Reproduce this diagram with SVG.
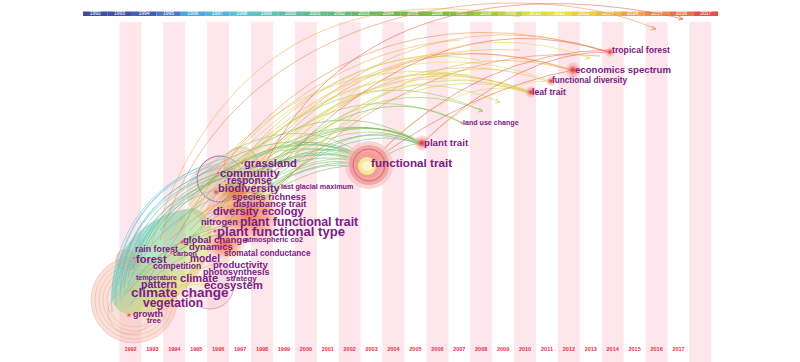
<svg xmlns="http://www.w3.org/2000/svg" width="800" height="362" viewBox="0 0 800 362">
<style>
.stripe{fill:#fde6ec}
.bar text{font-family:"Liberation Sans",Arial,sans-serif;font-size:5px;fill:#ffffff;text-anchor:middle}
.yr{font-family:"Liberation Sans",Arial,sans-serif;font-size:5.5px;font-weight:bold;fill:#e8304a;text-anchor:middle}
.lbl{font-family:"Liberation Sans",Arial,sans-serif;font-weight:bold;fill:#7b2084}
#links path{fill:none;stroke-width:0.8;stroke-opacity:0.7}
.t1{stroke:#5cc4dc}.t2{stroke:#5ec2b4}.g3{stroke:#5cba8a}.g1{stroke:#6cbd4e}.g2{stroke:#92c95a}
.y1{stroke:#c8d850}.y2{stroke:#e8d850}.o1{stroke:#eeb04e}.o2{stroke:#eb8a50}.r1{stroke:#e8604e}
.ring{fill:none;stroke:#eba090;stroke-opacity:0.6;stroke-width:0.7}
</style>
<defs>
<radialGradient id="halo">
<stop offset="0" stop-color="#e02626" stop-opacity="1"/>
<stop offset="0.3" stop-color="#ea5252" stop-opacity="0.75"/>
<stop offset="0.6" stop-color="#f08c8c" stop-opacity="0.5"/>
<stop offset="1" stop-color="#f6baba" stop-opacity="0.25"/>
</radialGradient>
<radialGradient id="hot">
<stop offset="0" stop-color="#f04a28" stop-opacity="0.8"/>
<stop offset="0.6" stop-color="#f48a60" stop-opacity="0.5"/>
<stop offset="1" stop-color="#f8b090" stop-opacity="0"/>
</radialGradient>
<linearGradient id="rainbow" x1="0" y1="0" x2="1" y2="1">
<stop offset="0" stop-color="#50c0e0"/>
<stop offset="0.4" stop-color="#70c890"/>
<stop offset="0.7" stop-color="#d8dc50"/>
<stop offset="1" stop-color="#f09050"/>
</linearGradient>
</defs>
<rect width="800" height="362" fill="#ffffff"/>
<g id="stripes">
<rect class="stripe" x="119.5" y="22" width="21.9" height="340"/>
<rect class="stripe" x="163.3" y="22" width="21.9" height="340"/>
<rect class="stripe" x="207.2" y="22" width="21.9" height="340"/>
<rect class="stripe" x="251.0" y="22" width="21.9" height="340"/>
<rect class="stripe" x="294.9" y="22" width="21.9" height="340"/>
<rect class="stripe" x="338.7" y="22" width="21.9" height="340"/>
<rect class="stripe" x="382.5" y="22" width="21.9" height="340"/>
<rect class="stripe" x="426.4" y="22" width="21.9" height="340"/>
<rect class="stripe" x="470.2" y="22" width="21.9" height="340"/>
<rect class="stripe" x="514.1" y="22" width="21.9" height="340"/>
<rect class="stripe" x="557.9" y="22" width="21.9" height="340"/>
<rect class="stripe" x="601.7" y="22" width="21.9" height="340"/>
<rect class="stripe" x="645.6" y="22" width="21.9" height="340"/>
<rect class="stripe" x="689.4" y="22" width="21.9" height="340"/>
</g>
<g id="timebar" class="bar">
<rect x="83.0" y="11.5" width="24.5" height="4.5" fill="#3d4ea3"/><text x="95.2" y="15.4">1992</text>
<rect x="107.4" y="11.5" width="24.5" height="4.5" fill="#3f52a8"/><text x="119.6" y="15.4">1993</text>
<rect x="131.8" y="11.5" width="24.5" height="4.5" fill="#4360b2"/><text x="144.1" y="15.4">1994</text>
<rect x="156.3" y="11.5" width="24.5" height="4.5" fill="#4c7cc6"/><text x="168.5" y="15.4">1995</text>
<rect x="180.7" y="11.5" width="24.5" height="4.5" fill="#4fa6de"/><text x="192.9" y="15.4">1996</text>
<rect x="205.1" y="11.5" width="24.5" height="4.5" fill="#54b6e0"/><text x="217.3" y="15.4">1997</text>
<rect x="229.5" y="11.5" width="24.5" height="4.5" fill="#5cc2d2"/><text x="241.8" y="15.4">1998</text>
<rect x="254.0" y="11.5" width="24.5" height="4.5" fill="#62c2bc"/><text x="266.2" y="15.4">1999</text>
<rect x="278.4" y="11.5" width="24.5" height="4.5" fill="#64bea6"/><text x="290.6" y="15.4">2000</text>
<rect x="302.8" y="11.5" width="24.5" height="4.5" fill="#66bc90"/><text x="315.0" y="15.4">2001</text>
<rect x="327.2" y="11.5" width="24.5" height="4.5" fill="#66ba7c"/><text x="339.5" y="15.4">2002</text>
<rect x="351.7" y="11.5" width="24.5" height="4.5" fill="#68b866"/><text x="363.9" y="15.4">2003</text>
<rect x="376.1" y="11.5" width="24.5" height="4.5" fill="#6cb854"/><text x="388.3" y="15.4">2004</text>
<rect x="400.5" y="11.5" width="24.5" height="4.5" fill="#74bb4a"/><text x="412.7" y="15.4">2005</text>
<rect x="424.9" y="11.5" width="24.5" height="4.5" fill="#7cbe44"/><text x="437.2" y="15.4">2006</text>
<rect x="449.4" y="11.5" width="24.5" height="4.5" fill="#8ac242"/><text x="461.6" y="15.4">2007</text>
<rect x="473.8" y="11.5" width="24.5" height="4.5" fill="#a0ca42"/><text x="486.0" y="15.4">2008</text>
<rect x="498.2" y="11.5" width="24.5" height="4.5" fill="#bcd444"/><text x="510.4" y="15.4">2009</text>
<rect x="522.6" y="11.5" width="24.5" height="4.5" fill="#dadf44"/><text x="534.9" y="15.4">2010</text>
<rect x="547.1" y="11.5" width="24.5" height="4.5" fill="#e8df44"/><text x="559.3" y="15.4">2011</text>
<rect x="571.5" y="11.5" width="24.5" height="4.5" fill="#ecce46"/><text x="583.7" y="15.4">2012</text>
<rect x="595.9" y="11.5" width="24.5" height="4.5" fill="#ecbc46"/><text x="608.1" y="15.4">2013</text>
<rect x="620.3" y="11.5" width="24.5" height="4.5" fill="#eaa648"/><text x="632.6" y="15.4">2014</text>
<rect x="644.8" y="11.5" width="24.5" height="4.5" fill="#e88e4a"/><text x="657.0" y="15.4">2015</text>
<rect x="669.2" y="11.5" width="24.5" height="4.5" fill="#e6724c"/><text x="681.4" y="15.4">2016</text>
<rect x="693.6" y="11.5" width="24.5" height="4.5" fill="#e2524a"/><text x="705.8" y="15.4">2017</text>
</g>
<g id="years">
<text class="yr" x="130.5" y="351">1992</text>
<text class="yr" x="152.4" y="351">1993</text>
<text class="yr" x="174.3" y="351">1994</text>
<text class="yr" x="196.3" y="351">1995</text>
<text class="yr" x="218.2" y="351">1996</text>
<text class="yr" x="240.1" y="351">1997</text>
<text class="yr" x="262.0" y="351">1998</text>
<text class="yr" x="283.9" y="351">1999</text>
<text class="yr" x="305.9" y="351">2000</text>
<text class="yr" x="327.8" y="351">2001</text>
<text class="yr" x="349.7" y="351">2002</text>
<text class="yr" x="371.6" y="351">2003</text>
<text class="yr" x="393.5" y="351">2004</text>
<text class="yr" x="415.4" y="351">2005</text>
<text class="yr" x="437.4" y="351">2006</text>
<text class="yr" x="459.3" y="351">2007</text>
<text class="yr" x="481.2" y="351">2008</text>
<text class="yr" x="503.1" y="351">2009</text>
<text class="yr" x="525.0" y="351">2010</text>
<text class="yr" x="547.0" y="351">2011</text>
<text class="yr" x="568.9" y="351">2012</text>
<text class="yr" x="590.8" y="351">2013</text>
<text class="yr" x="612.7" y="351">2014</text>
<text class="yr" x="634.6" y="351">2015</text>
<text class="yr" x="656.6" y="351">2016</text>
<text class="yr" x="678.5" y="351">2017</text>
</g>
<g id="halos">
<circle cx="134" cy="300" r="43" fill="#f4c4b4" fill-opacity="0.5"/>
<circle class="ring" cx="134" cy="300" r="43"/>
<circle class="ring" cx="134" cy="300" r="39"/>
<circle class="ring" cx="134" cy="300" r="35"/>
<circle class="ring" cx="134" cy="300" r="31"/>
<circle class="ring" cx="134" cy="300" r="27"/>
<circle class="ring" cx="130" cy="312" r="22"/>
<circle cx="210" cy="285" r="24" fill="#f4c8d4" fill-opacity="0.4" stroke="#c06cb4" stroke-opacity="0.6" stroke-width="0.9"/>
<circle cx="216" cy="193" r="30" fill="#f2b4aa" fill-opacity="0.4"/>
<circle cx="220" cy="179" r="23" fill="#f2c4cc" fill-opacity="0.35" stroke="#b060c0" stroke-width="1"/>
<circle cx="241" cy="164" r="17" fill="#f4c2b8" fill-opacity="0.5" stroke="#e8a0a0" stroke-opacity="0.6"/>
<circle cx="126" cy="260" r="11" fill="#f4b0a0" fill-opacity="0.55"/>
<path d="M112 300 C 108 258 140 214 192 208 C 224 214 214 262 184 290 C 162 314 120 326 112 300 Z" fill="url(#rainbow)" fill-opacity="0.5"/>
<ellipse cx="248" cy="215" rx="36" ry="32" fill="url(#hot)"/>
<ellipse cx="225" cy="245" rx="22" ry="16" fill="url(#hot)"/>
<ellipse cx="235" cy="192" rx="18" ry="14" fill="url(#hot)"/>
</g>
<g id="links">
<path class="t1" d="M116 305 C 114 245 145 185 212 166"/>
<path class="t1" d="M120 296 C 122 240 152 188 220 168"/>
<path class="t2" d="M124 288 C 130 235 160 190 228 170"/>
<path class="t2" d="M128 278 C 136 230 166 195 234 174"/>
<path class="t1" d="M112 312 C 108 255 135 195 198 168"/>
<path class="t2" d="M134 268 C 146 222 174 200 244 180"/>
<path class="t1" d="M118 285 C 126 225 170 178 240 160"/>
<path class="t1" d="M114 298 C 116 238 150 178 226 158"/>
<path class="t2" d="M122 275 C 130 225 165 185 236 168"/>
<path class="g3" d="M140 258 C 160 200 200 180 260 170"/>
<path class="g3" d="M132 270 C 150 205 200 170 270 165"/>
<path class="g3" d="M145 250 C 170 195 230 165 300 160"/>
<path class="t1" d="M120 300 Q 150 250 200 235"/>
<path class="t2" d="M130 305 Q 160 260 215 245"/>
<path class="g1" d="M125 295 Q 170 240 240 230"/>
<path class="y1" d="M135 310 Q 180 270 230 260"/>
<path class="t1" d="M140 290 Q 170 250 190 215"/>
<path class="t2" d="M128 285 Q 150 230 210 200"/>
<path class="y2" d="M150 300 Q 190 280 210 285"/>
<path class="y1" d="M130 315 Q 160 290 200 280"/>
<path class="g1" d="M140 275 Q 180 230 250 220"/>
<path class="t1" d="M120 290 Q 140 220 200 190"/>
<path class="o1" d="M145 320 Q 180 300 210 290"/>
<path class="o1" d="M160 260 Q 200 220 260 215"/>
<path class="y2" d="M150 250 Q 190 210 240 200"/>
<path class="o2" d="M170 240 Q 210 200 250 190"/>
<path class="o2" d="M180 250 Q 220 220 260 225"/>
<path class="r1" d="M200 230 Q 230 200 265 205"/>
<path class="r1" d="M205 215 Q 235 185 262 195"/>
<path class="o2" d="M190 230 Q 225 190 270 215"/>
<path class="g1" d="M180 190 Q 280 110 368 163"/>
<path class="g2" d="M195 175 Q 290 100 370 160"/>
<path class="g1" d="M210 200 Q 300 120 372 165"/>
<path class="g3" d="M230 190 Q 310 130 366 166"/>
<path class="g1" d="M220 230 Q 300 140 370 168"/>
<path class="g2" d="M170 210 Q 270 120 365 162"/>
<path class="g1" d="M240 210 Q 310 150 368 170"/>
<path class="g3" d="M250 180 Q 320 130 372 162"/>
<path class="g1" d="M160 230 Q 260 110 370 158"/>
<path class="g2" d="M200 215 Q 290 130 369 165"/>
<path class="g3" d="M185 245 Q 280 130 372 167"/>
<path class="g1" d="M205 185 Q 300 115 368 160"/>
<path class="g1" d="M215 195 Q 300 135 370 163"/>
<path class="g3" d="M225 215 Q 310 150 369 166"/>
<path class="g2" d="M245 195 Q 320 145 371 164"/>
<path class="g1" d="M260 200 Q 320 160 368 167"/>
<path class="g3" d="M190 200 Q 285 115 371 161"/>
<path class="g1" d="M200 190 Q 320 80 420 143"/>
<path class="g2" d="M230 185 Q 330 100 422 141"/>
<path class="g1" d="M215 210 Q 330 90 423 145"/>
<path class="g3" d="M250 200 Q 340 110 420 145"/>
<path class="g1" d="M180 220 Q 310 90 421 142"/>
<path class="g2" d="M260 175 Q 350 110 418 143"/>
<path class="g1" d="M240 230 Q 340 100 424 146"/>
<path class="g1" d="M225 200 Q 340 95 422 144"/>
<path class="g3" d="M270 190 Q 350 120 421 144"/>
<path class="g1" d="M370 165 Q 400 145 421 143"/>
<path class="g2" d="M220 200 Q 330 60 462 123"/>
<path class="g1" d="M250 190 Q 360 70 461 122"/>
<path class="g2" d="M200 210 Q 330 40 483 111"/>
<path class="y1" d="M230 205 Q 350 40 500 102"/>
<path class="g2" d="M240 200 Q 360 60 483 111"/>
<path class="y1" d="M190 200 Q 320 20 531 92"/>
<path class="y2" d="M220 190 Q 350 30 530 91"/>
<path class="y1" d="M250 210 Q 370 40 532 93"/>
<path class="y2" d="M370 165 Q 450 70 531 92"/>
<path class="o1" d="M240 180 Q 380 35 529 92"/>
<path class="y2" d="M210 230 Q 340 30 531 94"/>
<path class="y1" d="M265 200 Q 390 50 530 93"/>
<path class="o1" d="M200 220 Q 330 0 573 70"/>
<path class="o2" d="M230 200 Q 370 5 572 70"/>
<path class="o1" d="M260 215 Q 400 20 574 71"/>
<path class="r1" d="M372 162 Q 470 90 573 70"/>
<path class="y2" d="M215 200 Q 360 10 551 81"/>
<path class="o1" d="M245 195 Q 380 25 550 82"/>
<path class="y2" d="M422 143 Q 490 80 551 81"/>
<path class="o2" d="M180 230 Q 330 -30 610 52"/>
<path class="o1" d="M220 210 Q 380 -20 609 52"/>
<path class="r1" d="M250 200 Q 420 -10 611 53"/>
<path class="r1" d="M422 143 Q 520 50 610 52"/>
<path class="r1" d="M372 160 Q 480 50 612 50"/>
<path class="y2" d="M230 215 Q 400 -10 590 58"/>
<path class="o2" d="M160 240 C 230 0 520 -30 656 29"/>
<path class="o1" d="M150 250 C 220 20 380 -10 520 17"/>
<path class="r1" d="M250 200 C 330 -20 560 -10 683 19"/>
<path class="y1" d="M170 235 Q 320 30 480 60"/>
<path class="o1" d="M190 215 Q 330 40 520 50"/>
<path class="y2" d="M260 190 Q 380 60 500 70"/>
<path class="o2" d="M270 195 Q 420 40 600 56"/>
<path class="o1" d="M175 225 Q 300 50 460 40"/>
<path class="y1" d="M195 210 Q 320 60 470 75"/>
</g>
<g id="arrowheads" fill="none" stroke-width="0.8">
<path d="M652 26 L656 29 L651 30" stroke="#eb8a50"/>
<path d="M679 16 L683 19 L678 20" stroke="#e8604e"/>
<path d="M586 55 L590 58 L585 59" stroke="#e8d850"/>
<path d="M479 108 L483 111 L478 112" stroke="#92c95a"/>
<path d="M496 99 L500 102 L495 103" stroke="#c8d850"/>
</g>
<g id="n-functional-trait">
<circle cx="369" cy="165" r="24" fill="#f6c0c0" fill-opacity="0.65"/>
<circle cx="369" cy="165" r="20" fill="#ee8686" fill-opacity="0.6"/>
<circle cx="369" cy="165" r="16" fill="none" stroke="#e05050" stroke-opacity="0.8"/>
<circle cx="368" cy="165" r="13" fill="#f29e96" fill-opacity="0.85"/>
<circle cx="367" cy="166" r="9" fill="#f2ea98"/>
<circle cx="367" cy="166" r="5" fill="#faf6cc"/>
<text class="lbl" x="371" y="167" font-size="11.7">functional trait</text>
</g>
<g id="n-plant-trait">
<circle cx="422" cy="143" r="8" fill="url(#halo)"/>
<text class="lbl" x="424" y="146" font-size="9.7">plant trait</text>
</g>
<g id="n-land-use-change">
<circle cx="462" cy="123" r="2" fill="url(#halo)"/>
<text class="lbl" x="463" y="124.5" font-size="7.1">land use change</text>
</g>
<g id="n-leaf-trait">
<circle cx="531" cy="92" r="6" fill="url(#halo)"/>
<text class="lbl" x="532" y="94.5" font-size="8.7">leaf trait</text>
</g>
<g id="n-functional-diversity">
<circle cx="551" cy="81" r="5" fill="url(#halo)"/>
<text class="lbl" x="552" y="83" font-size="8.2">functional diversity</text>
</g>
<g id="n-economics-spectrum">
<circle cx="573" cy="70" r="8" fill="url(#halo)"/>
<text class="lbl" x="575" y="73" font-size="9.6">economics spectrum</text>
</g>
<g id="n-tropical-forest">
<circle cx="610" cy="52" r="5" fill="url(#halo)"/>
<text class="lbl" x="612" y="53" font-size="8.7">tropical forest</text>
</g>
<g id="n-grassland"><circle cx="242" cy="163" r="2" fill="url(#halo)"/><text class="lbl" x="244" y="167" font-size="11.2">grassland</text></g>
<g id="n-community"><circle cx="218" cy="173" r="2" fill="url(#halo)"/><text class="lbl" x="220" y="177" font-size="11.2">community</text></g>
<g id="n-response"><circle cx="225" cy="181" r="1.5" fill="url(#halo)"/><text class="lbl" x="227" y="184" font-size="10.1">response</text></g>
<g id="n-last-glacial-maximum"><text class="lbl" x="281" y="189" font-size="7.2">last glacial maximum</text></g>
<g id="n-biodiversity"><circle cx="216" cy="192" r="4" fill="url(#halo)"/><text class="lbl" x="218" y="192" font-size="11">biodiversity</text></g>
<g id="n-species-richness"><text class="lbl" x="232" y="200" font-size="9.2">species richness</text></g>
<g id="n-disturbance-trait"><text class="lbl" x="233" y="207" font-size="9.4">disturbance trait</text></g>
<g id="n-diversity-ecology"><text class="lbl" x="213" y="215" font-size="11.1">diversity ecology</text></g>
<g id="n-nitrogen"><text class="lbl" x="201" y="225" font-size="9.2">nitrogen</text></g>
<g id="n-plant-functional-trait"><text class="lbl" x="240" y="226" font-size="12.3">plant functional trait</text></g>
<g id="n-plant-functional-type"><circle cx="215" cy="231" r="3" fill="url(#halo)"/><text class="lbl" x="217" y="236" font-size="13.1">plant functional type</text></g>
<g id="n-global-change"><circle cx="182" cy="242" r="3" fill="url(#halo)"/><text class="lbl" x="183" y="242.5" font-size="9.6">global change</text></g>
<g id="n-atmospheric-co2"><text class="lbl" x="245" y="242" font-size="7.3">atmospheric co2</text></g>
<g id="n-dynamics"><text class="lbl" x="189" y="249.5" font-size="9.5">dynamics</text></g>
<g id="n-rain-forest"><text class="lbl" x="135" y="252" font-size="8.8">rain forest</text></g>
<g id="n-carbon"><circle cx="171" cy="253" r="2" fill="url(#halo)"/><text class="lbl" x="173" y="256" font-size="7.2">carbon</text></g>
<g id="n-stomatal-conductance"><text class="lbl" x="224" y="256" font-size="8.2">stomatal conductance</text></g>
<g id="n-forest"><circle cx="134" cy="258" r="2" fill="url(#halo)"/><text class="lbl" x="136" y="262.5" font-size="11">forest</text></g>
<g id="n-model"><text class="lbl" x="190" y="261.5" font-size="10.2">model</text></g>
<g id="n-competition"><text class="lbl" x="153" y="268.5" font-size="8.5">competition</text></g>
<g id="n-productivity"><text class="lbl" x="213" y="267.5" font-size="9.6">productivity</text></g>
<g id="n-photosynthesis"><text class="lbl" x="203" y="274.5" font-size="9">photosynthesis</text></g>
<g id="n-temperature"><text class="lbl" x="136" y="279.5" font-size="7.1">temperature</text></g>
<g id="n-climate"><text class="lbl" x="180" y="282" font-size="11.1">climate</text></g>
<g id="n-strategy"><text class="lbl" x="226" y="281" font-size="7.9">strategy</text></g>
<g id="n-pattern"><text class="lbl" x="141" y="287.5" font-size="10.6">pattern</text></g>
<g id="n-ecosystem"><text class="lbl" x="204" y="289" font-size="11.4">ecosystem</text></g>
<g id="n-climate-change"><text class="lbl" x="131" y="297" font-size="13.5">climate change</text></g>
<g id="n-vegetation"><text class="lbl" x="143" y="307" font-size="12">vegetation</text></g>
<g id="n-growth"><circle cx="129" cy="315" r="3" fill="url(#halo)"/><text class="lbl" x="133" y="317" font-size="9">growth</text></g>
<g id="n-tree"><text class="lbl" x="147" y="322.5" font-size="7.6">tree</text></g>
</svg>
